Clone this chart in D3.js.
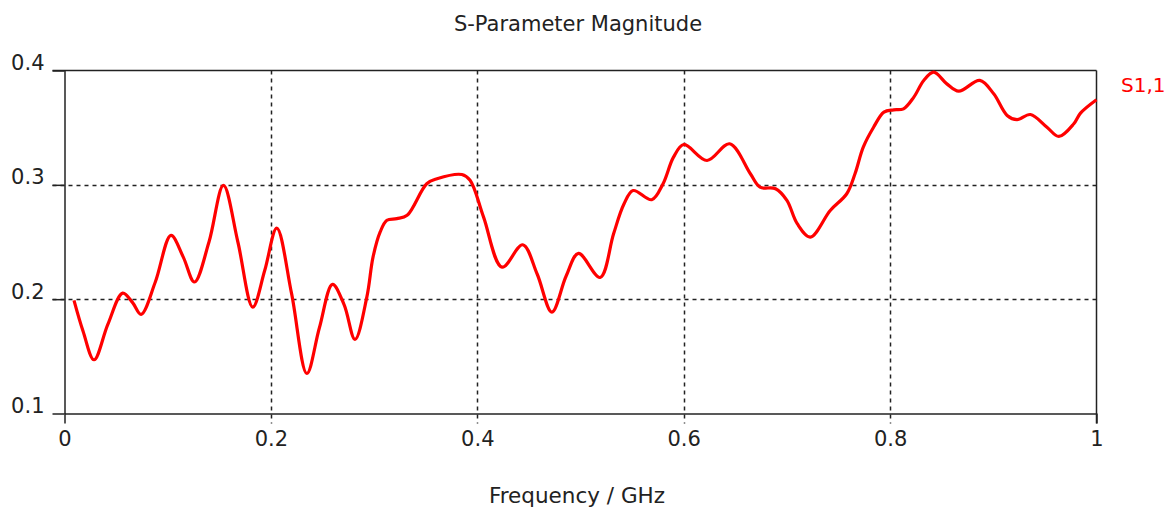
<!DOCTYPE html>
<html>
<head>
  <meta charset="utf-8" />
  <title>S-Parameter Magnitude</title>
  <script src="https://d3js.org/d3.v7.min.js"></script>
  <style>
    body { margin: 0; background: #fff; }
    svg { display: block; }
    text { font-family: "DejaVu Sans", sans-serif; fill: #222; }
    .axis path, .axis line { stroke: #222; stroke-width: 1.5px; }
    .grid line { stroke: #222; stroke-width: 1.5px; stroke-dasharray: 4,4; }
    .curve { fill: none; stroke: #ff0000; stroke-width: 3.2px; }
  </style>
</head>
<body>
<svg width="1171" height="507"></svg>
<script>
  // frequency (GHz) and |S1,1|
  const freq = [0.0092, 0.018, 0.0286, 0.042, 0.0564, 0.066, 0.0742, 0.088, 0.1032, 0.115, 0.1259,
    0.14, 0.154, 0.168, 0.1824, 0.194, 0.2057, 0.22, 0.2348, 0.247, 0.2597, 0.271, 0.2815, 0.293,
    0.299, 0.306, 0.3124, 0.322, 0.332, 0.351, 0.361, 0.385, 0.393, 0.406, 0.424, 0.444, 0.458,
    0.4723, 0.486, 0.498, 0.519, 0.532, 0.542, 0.551, 0.569, 0.58, 0.59, 0.6, 0.6226, 0.6445,
    0.6646, 0.674, 0.689, 0.7, 0.71, 0.7227, 0.742, 0.758, 0.766, 0.774, 0.784, 0.794, 0.8035,
    0.813, 0.823, 0.8326, 0.8423, 0.855, 0.8665, 0.8869, 0.9004, 0.9134, 0.923, 0.936, 0.952,
    0.9635, 0.978, 0.9845, 1.0];
  const s11 = [0.199, 0.172, 0.147, 0.178, 0.2053, 0.197, 0.1867, 0.215, 0.2558, 0.237, 0.215,
    0.25, 0.2995, 0.25, 0.193, 0.225, 0.2622, 0.205, 0.135, 0.175, 0.213, 0.195, 0.1648, 0.202,
    0.237, 0.259, 0.269, 0.2704, 0.2733, 0.301, 0.3053, 0.309, 0.304, 0.272, 0.228, 0.2476, 0.222,
    0.1887, 0.22, 0.24, 0.219, 0.257, 0.283, 0.295, 0.287, 0.301, 0.324, 0.3353, 0.3213, 0.3359,
    0.3097, 0.298, 0.2966, 0.2864, 0.266, 0.2543, 0.2776, 0.2922, 0.3097, 0.333, 0.3504, 0.3636, 0.3656,
    0.3665, 0.3767, 0.3913, 0.3985, 0.3883, 0.3819, 0.3913, 0.3796, 0.3607, 0.357, 0.3615, 0.3504,
    0.3423, 0.3534, 0.3627, 0.3744];
  const xTicks = [0, 0.2, 0.4, 0.6, 0.8, 1];
  const yTicks = [0.1, 0.2, 0.3, 0.4];
  const seriesName = "S1,1";

  const svg = d3.select("svg");
  const x = d3.scaleLinear().domain([0, 1]).range([64.5, 1096.5]);
  const y = d3.scaleLinear().domain([0.1, 0.4]).range([413.5, 70.5]);
  const fmt = d3.format("~g");

  // dashed grid
  const grid = svg.append("g").attr("class", "grid");
  grid.selectAll(".gx").data(xTicks.slice(1, -1)).join("line")
    .attr("x1", d => Math.round(x(d)) + 0.5).attr("x2", d => Math.round(x(d)) + 0.5)
    .attr("y1", y(0.4)).attr("y2", y(0.1) + 10);
  grid.selectAll(".gy").data(yTicks.slice(1, -1)).join("line")
    .attr("y1", d => Math.round(y(d)) + 0.5).attr("y2", d => Math.round(y(d)) + 0.5)
    .attr("x1", x(0) - 12).attr("x2", x(1));

  // frame
  svg.append("line").attr("x1", x(0) - 12).attr("x2", x(1))
    .attr("y1", y(0.4)).attr("y2", y(0.4)).attr("stroke", "#222").attr("stroke-width", 1.5);
  svg.append("line").attr("x1", x(1)).attr("x2", x(1))
    .attr("y1", y(0.4)).attr("y2", y(0.1) + 10).attr("stroke", "#222").attr("stroke-width", 1.5);

  // axes
  const yAxis = svg.append("g").attr("class", "axis")
    .attr("transform", `translate(${x(0)},0)`)
    .call(d3.axisLeft(y).tickValues(yTicks).tickSize(12).tickSizeOuter(0).tickFormat(fmt));
  yAxis.selectAll("text").attr("x", -20).attr("dy", "-0.05em")
    .style("font-size", "21px").attr("fill", "#222");

  const xAxis = svg.append("g").attr("class", "axis")
    .attr("transform", `translate(0,${y(0.1)})`)
    .call(d3.axisBottom(x).tickValues(xTicks).tickSize(10).tickSizeOuter(0).tickFormat(fmt));
  xAxis.selectAll("text").attr("y", 18)
    .style("font-size", "21px").attr("fill", "#222");
  xAxis.selectAll(".tick").filter(d => d > 0 && d < 1).select("line").remove();

  // curve
  const line = d3.line()
    .x((d, i) => x(freq[i]))
    .y(d => y(d))
    .curve(d3.curveCatmullRom.alpha(0.5));
  svg.append("path").attr("class", "curve").attr("d", line(s11));

  // labels
  svg.append("text").attr("x", 578).attr("y", 31).attr("text-anchor", "middle")
    .style("font-size", "21px").text("S-Parameter Magnitude");
  svg.append("text").attr("x", 577).attr("y", 503).attr("text-anchor", "middle")
    .style("font-size", "21.5px").text("Frequency / GHz");
  svg.append("text").attr("x", 1121).attr("y", 92)
    .style("font-size", "20px").style("fill", "#ff0000").text(seriesName);
</script>
</body>
</html>
